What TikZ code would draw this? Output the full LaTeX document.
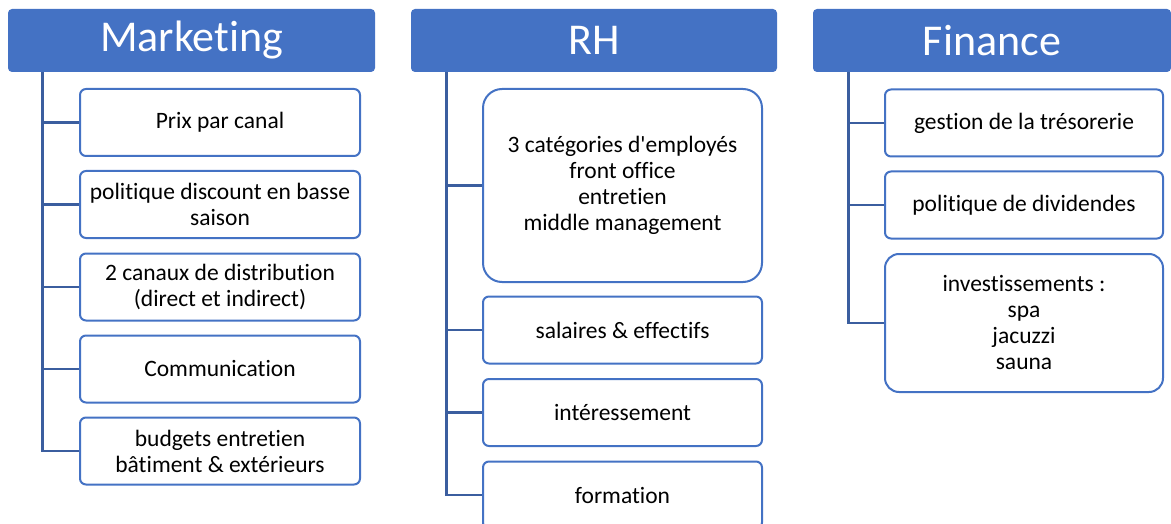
\documentclass[tikz,border=0pt]{standalone}
\usepackage{fontspec}
\setmainfont{Carlito}[Ligatures={NoCommon,NoRare,NoDiscretionary,NoContextual}]
\definecolor{accent}{HTML}{4472C4}
\definecolor{connc}{HTML}{3B5E9F}
\tikzset{
  header/.style={fill=accent, draw=none, rounded corners=4pt, text=white,
    font=\fontsize{44}{50}\selectfont, inner sep=0pt, minimum height=63pt},
  item/.style={draw=accent, line width=2pt, fill=white, rounded corners=6pt,
    align=center, inner sep=0pt, font=\fontsize{23.5}{26}\selectfont,
    minimum height=67pt},
  conn/.style={draw=connc, line width=2.8pt},
}
\begin{document}
\begin{tikzpicture}[x=1pt,y=-1pt]
\useasboundingbox (0,0) rectangle (1171,524);
% headers
\node[header, minimum width=367pt] (mk) at (191.5,40.5) {Marketing};
\node[header, minimum width=366pt] (rh) at (594,40.5) {RH};
\node[header, minimum width=358pt] (fi) at (992,40.5) {Finance};
% Marketing items
\node[item, minimum width=280pt] (m1) at (220,122.5) {Prix par canal};
\node[item, minimum width=280pt] (m2) at (220,204.5) {politique discount en basse\\saison};
\node[item, minimum width=280pt] (m3) at (220,287) {2 canaux de distribution\\(direct et indirect)};
\node[item, minimum width=280pt] (m4) at (220,369) {Communication};
\node[item, minimum width=280pt] (m5) at (220,451) {budgets entretien\\bâtiment \& extérieurs};
% RH items
\node[item, minimum width=279pt, minimum height=193pt, rounded corners=19pt] (r1) at (622.5,185.5)
  {3 catégories d\textquotesingle employés\\front office\\entretien\\middle management};
\node[item, minimum width=279pt] (r2) at (622.5,330) {salaires \& effectifs};
\node[item, minimum width=279pt] (r3) at (622.5,412.5) {intéressement};
\node[item, minimum width=279pt] (r4) at (622.5,495) {formation};
% Finance items
\node[item, minimum width=278pt] (f1) at (1024,123) {gestion de la trésorerie};
\node[item, minimum width=278pt] (f2) at (1024,205) {politique de dividendes};
\node[item, minimum width=278pt, minimum height=138pt, rounded corners=14pt] (f3) at (1024,323)
  {investissements :\\spa\\jacuzzi\\sauna};
% connectors
\foreach \c in {m1,m2,m3,m4,m5}{
  \draw[conn] ([xshift=35pt]mk.south west) |- (\c.west);
}
\foreach \c in {r1,r2,r3,r4}{
  \draw[conn] ([xshift=36pt]rh.south west) |- (\c.west);
}
\foreach \c in {f1,f2,f3}{
  \draw[conn] ([xshift=36pt]fi.south west) |- (\c.west);
}
\end{tikzpicture}
\end{document}
